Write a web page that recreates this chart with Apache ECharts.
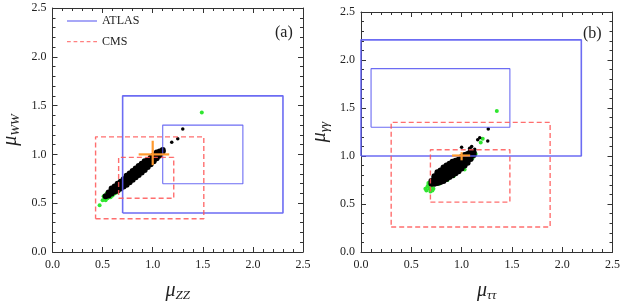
<!DOCTYPE html>
<html><head><meta charset="utf-8">
<script src="https://cdn.jsdelivr.net/npm/echarts@6/dist/echarts.min.js"></script>
<style>html,body{margin:0;padding:0;background:#fff}#c{width:623px;height:307px}</style>
</head><body><div id="c"></div>
<script>
// ---- Data ----
const axisTicks = [0.0, 0.5, 1.0, 1.5, 2.0, 2.5];
// boxes: [xmin, ymin, xmax, ymax]
const atlasBoxesA = [[0.70, 0.40, 2.30, 1.60], [1.10, 0.70, 1.90, 1.30]];
const cmsBoxesA = [[0.43, 0.34, 1.51, 1.18], [0.66, 0.55, 1.21, 0.97]];
const atlasBoxesB = [[0.00, 1.00, 2.19, 2.21], [0.10, 1.30, 1.48, 1.91]];
const cmsBoxesB = [[0.30, 0.26, 1.88, 1.35], [0.69, 0.52, 1.48, 1.065]];
// SM cross: horizontal arm, vertical arm
const crossAH = [[0.86, 1.0], [1.165, 1.0]];
const crossAV = [[1.0, 0.89], [1.0, 1.14]];
const crossBH = [[0.905, 1.005], [1.085, 1.005]];
const crossBV = [[1.0, 0.955], [1.0, 1.04]];
// scan points panel (a): mu_ZZ, mu_WW  (dense band + sparse outliers)
const blackA = [
 [0.53,0.57],[0.56,0.58],[0.56,0.61],[0.59,0.60],[0.59,0.63],[0.59,0.65],
 [0.62,0.62],[0.62,0.645],[0.62,0.67],[0.65,0.63],[0.65,0.655],[0.65,0.68],[0.65,0.70],
 [0.68,0.65],[0.68,0.675],[0.68,0.70],[0.68,0.72],[0.71,0.67],[0.71,0.695],[0.71,0.72],[0.71,0.745],
 [0.74,0.69],[0.74,0.715],[0.74,0.74],[0.74,0.765],[0.74,0.78],
 [0.77,0.715],[0.77,0.74],[0.77,0.765],[0.77,0.79],[0.77,0.805],
 [0.80,0.74],[0.80,0.765],[0.80,0.79],[0.80,0.815],[0.80,0.83],
 [0.83,0.765],[0.83,0.79],[0.83,0.815],[0.83,0.84],[0.83,0.855],
 [0.86,0.79],[0.86,0.815],[0.86,0.84],[0.86,0.865],[0.86,0.88],
 [0.89,0.815],[0.89,0.84],[0.89,0.865],[0.89,0.89],[0.89,0.905],
 [0.92,0.84],[0.92,0.865],[0.92,0.89],[0.92,0.915],[0.92,0.93],
 [0.95,0.87],[0.95,0.895],[0.95,0.92],[0.95,0.94],
 [0.98,0.90],[0.98,0.925],[0.98,0.945],[0.98,0.965],
 [1.01,0.93],[1.01,0.95],[1.01,0.97],[1.01,0.99],
 [1.04,0.96],[1.04,0.98],[1.04,1.00],[1.04,1.02],
 [1.07,0.99],[1.07,1.01],[1.07,1.03],[1.10,1.03],[1.10,1.045]
];
const blackOutA = [[1.19,1.125],[1.25,1.16],[1.30,1.26]];
const greenA = [
 [0.47,0.48],[0.50,0.53],[0.52,0.55],[0.53,0.53],[0.55,0.55],[0.56,0.565],[0.58,0.56],
 [0.60,0.58],[0.62,0.60],[0.64,0.61],[0.66,0.625],[0.51,0.57],[0.54,0.60],[1.49,1.43]
];
// scan points panel (b): mu_tautau, mu_gammagamma
const blackB = [
 [0.70,0.71],[0.70,0.74],[0.73,0.71],[0.73,0.74],[0.73,0.77],[0.73,0.79],
 [0.76,0.72],[0.76,0.75],[0.76,0.78],[0.76,0.81],[0.76,0.83],
 [0.79,0.73],[0.79,0.76],[0.79,0.79],[0.79,0.82],[0.79,0.85],
 [0.82,0.74],[0.82,0.77],[0.82,0.80],[0.82,0.83],[0.82,0.86],[0.82,0.88],
 [0.85,0.76],[0.85,0.79],[0.85,0.82],[0.85,0.85],[0.85,0.88],[0.85,0.90],
 [0.88,0.78],[0.88,0.81],[0.88,0.84],[0.88,0.87],[0.88,0.90],[0.88,0.92],
 [0.91,0.80],[0.91,0.83],[0.91,0.86],[0.91,0.89],[0.91,0.92],[0.91,0.94],
 [0.94,0.82],[0.94,0.85],[0.94,0.88],[0.94,0.91],[0.94,0.94],[0.94,0.95],
 [0.97,0.84],[0.97,0.87],[0.97,0.90],[0.97,0.93],[0.97,0.96],
 [1.00,0.87],[1.00,0.90],[1.00,0.93],[1.00,0.96],[1.00,0.99],
 [1.03,0.90],[1.03,0.93],[1.03,0.96],[1.03,0.99],[1.03,1.01],
 [1.06,0.93],[1.06,0.96],[1.06,0.99],[1.06,1.02],
 [1.09,0.97],[1.09,1.00],[1.09,1.03],[1.09,1.05],[1.12,1.01],[1.12,1.04]
];
const blackOutB = [[1.00,1.09],[1.08,1.08],[1.10,1.10],[1.13,1.07],[1.16,1.17],[1.18,1.19],[1.265,1.28],[1.26,1.155]];
const greenB = [
 [0.64,0.66],[0.65,0.64],[0.66,0.68],[0.67,0.70],[0.68,0.66],[0.69,0.63],[0.70,0.68],
 [0.72,0.66],[0.71,0.64],[0.67,0.72],[0.78,0.71],[0.86,0.75],[0.92,0.79],[1.03,0.86],
 [1.11,0.98],[1.14,1.02],[1.19,1.14],[1.21,1.18],[1.35,1.47]
];

// ---- Build chart ----
const SERIF = 'Liberation Serif';
const ATLAS_COLOR = '#5c5cf2';
const CMS_COLOR = '#ff5555';
const ORANGE = '#ff9a2e';

function boxPath(b){ return [[b[0],b[1]],[b[2],b[1]],[b[2],b[3]],[b[0],b[3]],[b[0],b[1]]]; }

function makeAxes(gi, dim, nameRich){
  const common = {
    gridIndex: gi, min: axisTicks[0], max: axisTicks[axisTicks.length-1], interval: axisTicks[1]-axisTicks[0],
    axisLine: {show: true, onZero: false, lineStyle: {color: '#333', width: 1}},
    axisTick: {show: true, inside: true, length: 5, lineStyle: {color: '#333'}},
    minorTick: {show: true, splitNumber: 5, length: 3, lineStyle: {color: '#333'}},
    splitLine: {show: false}, minorSplitLine: {show: false}
  };
  const main = Object.assign({}, common, {
    position: dim === 'x' ? 'bottom' : 'left',
    axisLabel: {fontFamily: SERIF, fontSize: 12, color: '#222', margin: dim === 'x' ? 7 : 6,
      formatter: v => v.toFixed(1)},
    name: nameRich, nameLocation: 'middle', nameGap: dim === 'x' ? 27 : 30,
    nameRotate: dim === 'x' ? 0 : 90,
    nameTextStyle: {rich: {
      m: {fontFamily: SERIF, fontStyle: 'italic', fontSize: 20, color: '#222'},
      s: {fontFamily: SERIF, fontStyle: 'italic', fontSize: 13, color: '#222', padding: [10,0,0,0]}
    }}
  });
  const mirror = Object.assign({}, common, {
    position: dim === 'x' ? 'top' : 'right',
    axisLabel: {show: false}
  });
  return [main, mirror];
}

const xA = makeAxes(0, 'x', '{m|μ}{s|ZZ}');
const yA = makeAxes(0, 'y', '{m|μ}{s|WW}');
const xB = makeAxes(1, 'x', '{m|μ}{s|ττ}');
const yB = makeAxes(1, 'y', '{m|μ}{s|γγ}');

const series = [];
function addPanel(idx, green, black, blackOut, atlas, cms, ch, cv, bsize){
  series.push({type: 'scatter', xAxisIndex: idx, yAxisIndex: idx, data: green, symbolSize: 4,
    itemStyle: {color: '#2fe62f', opacity: 1}, silent: true, z: 2});
  series.push({type: 'scatter', xAxisIndex: idx, yAxisIndex: idx, data: black, symbolSize: bsize,
    itemStyle: {color: '#000', opacity: 1}, silent: true, z: 3});
  series.push({type: 'scatter', xAxisIndex: idx, yAxisIndex: idx, data: blackOut, symbolSize: 3.5,
    itemStyle: {color: '#000', opacity: 1}, silent: true, z: 3});
  atlas.forEach((b, i) => series.push({name: 'ATLAS', type: 'line', xAxisIndex: idx, yAxisIndex: idx,
    data: boxPath(b), symbol: 'none', silent: true, z: 4,
    lineStyle: {color: ATLAS_COLOR, width: i === 0 ? 1.6 : 1.1, opacity: 0.9}, itemStyle: {color: ATLAS_COLOR}}));
  cms.forEach((b, i) => series.push({name: 'CMS', type: 'line', xAxisIndex: idx, yAxisIndex: idx,
    data: boxPath(b), symbol: 'none', silent: true, z: 4,
    lineStyle: {color: CMS_COLOR, width: 1.4, type: [5, 3], opacity: 0.85}, itemStyle: {color: CMS_COLOR}}));
  [ch, cv].forEach(seg => series.push({type: 'line', xAxisIndex: idx, yAxisIndex: idx, data: seg,
    symbol: 'none', silent: true, z: 5, lineStyle: {color: ORANGE, width: 2.2}}));
}
addPanel(0, greenA, blackA, blackOutA, atlasBoxesA, cmsBoxesA, crossAH, crossAV, 6);
addPanel(1, greenB, blackB, blackOutB, atlasBoxesB, cmsBoxesB, crossBH, crossBV, 6);

const edgeMarks = 'M0,0h0.05v0.05h-0.05zM0,13.95h0.05v0.05h-0.05z';
const solidIcon = 'path://' + edgeMarks + 'M0,6.2h30v1.6h-30z';
let dashPath = '';
for (let x = 0; x < 30; x += 7) dashPath += 'M' + x + ',6.3h4v1.4h-4z';
const dashIcon = 'path://' + edgeMarks + dashPath;

const chart = echarts.init(document.getElementById('c'), null, {renderer: 'canvas'});
chart.setOption({
  animation: false,
  backgroundColor: '#fff',
  grid: [
    {left: 49, top: 8, width: 254, height: 253},
    {left: 361, top: 12, width: 256, height: 249}
  ],
  xAxis: [xA[0], xB[0], xA[1], xB[1]].map((a, i) => Object.assign(a, {gridIndex: i % 2})),
  yAxis: [yA[0], yB[0], yA[1], yB[1]].map((a, i) => Object.assign(a, {gridIndex: i % 2})),
  legend: {
    data: [
      {name: 'ATLAS', icon: solidIcon, itemStyle: {color: '#8a8af5'}},
      {name: 'CMS', icon: dashIcon, itemStyle: {color: '#ff8080'}}
    ],
    orient: 'vertical', left: 62, top: 9,
    itemWidth: 30, itemHeight: 14, itemGap: 7, selectedMode: false,
    textStyle: {fontFamily: SERIF, fontSize: 12, color: '#222'}
  },
  title: [
    {text: '(a)', left: 270, top: 20, textStyle: {fontFamily: SERIF, fontSize: 16, fontWeight: 'normal', color: '#222'}},
    {text: '(b)', left: 578, top: 21, textStyle: {fontFamily: SERIF, fontSize: 16, fontWeight: 'normal', color: '#222'}}
  ],
  series: series
});
</script></body></html>
